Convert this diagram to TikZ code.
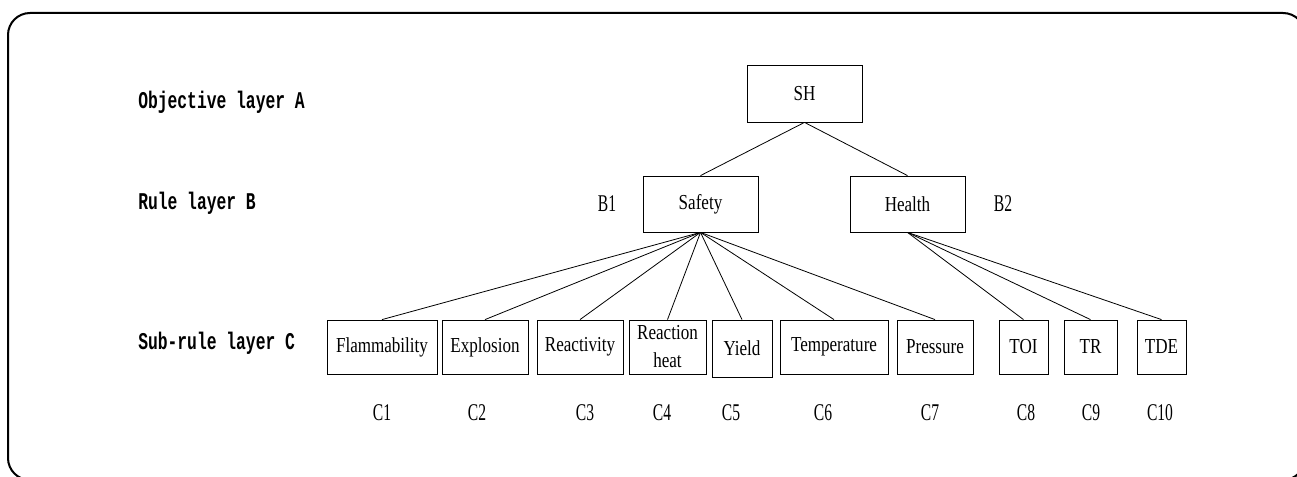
\documentclass[tikz,border=0pt]{standalone}
\usepackage{fontspec}
\setmainfont{Liberation Serif}
\newfontfamily\boxfont[FakeStretch=0.8]{Liberation Serif}
\newfontfamily\idfont[FakeStretch=0.65]{Liberation Serif}
\newfontfamily\layerfont[FakeStretch=0.68]{Liberation Mono}
\usetikzlibrary{positioning}
\tikzset{box/.style = {draw, line width = 0.6pt, inner sep = 0, align = center,
                       minimum height = 40.5pt, font = \boxfont\fontsize{16}{21}\selectfont}}
\tikzset{idlabel/.style = {font = \idfont\fontsize{18}{18}\selectfont}}
\tikzset{layer/.style = {anchor = west, inner sep = 0, font = \layerfont\bfseries\fontsize{18}{18}\selectfont}}
\tikzset{link/.style = {line width = 0.6pt}}

\begin{document}
\begin{tikzpicture}[x = 0.75pt, y = -0.75pt]
      \useasboundingbox (0, 0) rectangle (1297, 477);
      \begin{scope}
        \clip (0, 0) rectangle (1297, 477);
        \draw [line width = 1.5pt, rounded corners = 16.5pt] (8, 13) rectangle (1305, 480);
      \end{scope}

      % layer names
      \node [layer] (layA) at (138, 102) {Objective layer A};
      \node [layer] (layB) at (138, 203) {Rule layer B};
      \node [layer] (layC) at (138, 343) {Sub-rule layer C};

      \node [box, minimum width = 86.25pt, minimum height = 42.75pt] (sh) at (804.5, 93.5) {SH};
      \node [box, minimum width = 86.25pt, minimum height = 42pt] (safety) at (700.5, 204) {Safety};
      \node [box, minimum width = 86.25pt, minimum height = 42pt] (health) at (907.5, 204) {Health};
      \node [idlabel] (b1) at (607, 204) {B1};
      \node [idlabel] (b2) at (1003, 204) {B2};

      \node [box, minimum width = 82.5pt] (c1) at (382, 347) {Flammability};
      \node [box, minimum width = 64.5pt] (c2) at (485, 347) {Explosion};
      \node [box, minimum width = 64.5pt] (c3) at (580, 347) {Reactivity};
      \node [box, minimum width = 57.75pt] (c4) at (667.5, 347) {Reaction\\heat};
      \node [box, minimum width = 45pt, minimum height = 42.75pt] (c5) at (742, 348.5) {Yield};
      \node [box, minimum width = 81pt] (c6) at (834, 347) {Temperature};
      \node [box, minimum width = 57pt] (c7) at (935, 347) {Pressure};
      \node [box, minimum width = 36.75pt] (c8) at (1023.5, 347) {TOI};
      \node [box, minimum width = 39.75pt] (c9) at (1090.5, 347) {TR};
      \node [box, minimum width = 36.75pt] (c10) at (1161.5, 347) {TDE};

      \foreach \i/\x in {1/382, 2/477, 3/585, 4/662, 5/731, 6/823, 7/930, 8/1026, 9/1091, 10/1160}
        \node [idlabel] (l\i) at (\x, 413) {C\i};

      \draw [link] (sh.south) -- (safety.north);
      \draw [link] (sh.south) -- (health.north);
      \foreach \c in {c1, c2, c3, c4, c5, c6, c7}
        \draw [link] (safety.south) -- (\c.north);
      \foreach \c in {c8, c9, c10}
        \draw [link] (health.south) -- (\c.north);
    \end{tikzpicture}
\end{document}
